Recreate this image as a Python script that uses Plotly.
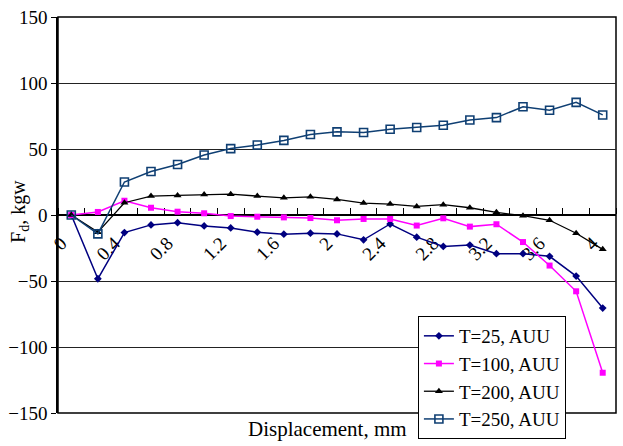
import plotly.graph_objects as go

# Displacement steps (mm)
displacement = [0.0, 0.2, 0.4, 0.6, 0.8, 1.0, 1.2, 1.4, 1.6, 1.8, 2.0,
                2.2, 2.4, 2.6, 2.8, 3.0, 3.2, 3.4, 3.6, 3.8, 4.0]

# Force Fd (kgw) for each temperature
f_t25 = [0, -48.3, -13.3, -7.5, -5.8, -8.3, -9.8, -13.0, -14.5, -13.8, -14.3,
         -18.8, -6.8, -16.8, -23.8, -22.8, -29.3, -29.3, -31.3, -46.3, -70.5]
f_t100 = [0, 2.3, 10.8, 5.5, 2.5, 1.3, -0.8, -1.3, -1.8, -2.3, -4.0,
          -3.0, -3.0, -8.0, -2.5, -8.8, -7.0, -20.5, -38.3, -57.8, -119.5]
f_t200 = [0, -13.0, 9.3, 14.3, 14.8, 15.5, 15.8, 14.3, 13.0, 13.8, 11.8,
          9.0, 8.3, 6.5, 7.8, 5.5, 2.0, -0.5, -4.0, -13.8, -26.0]
f_t250 = [0, -14.3, 25.0, 33.0, 38.3, 45.5, 50.3, 53.0, 56.5, 61.0, 63.0,
          62.5, 65.0, 66.3, 68.0, 72.0, 73.8, 82.0, 79.3, 85.3, 75.8]

series_names = ["T=25, AUU", "T=100, AUU", "T=200, AUU", "T=250, AUU"]
label_vals = [0.0, 0.4, 0.8, 1.2, 1.6, 2.0, 2.4, 2.8, 3.2, 3.6, 4.0]
label_text = ["0", "0.4", "0.8", "1.2", "1.6", "2", "2.4", "2.8", "3.2", "3.6", "4"]
y_ticks = [-150, -100, -50, 0, 50, 100, 150]

SERIF = "Liberation Serif, Times New Roman, Times, serif"

fig = go.Figure()
fig.add_trace(go.Scatter(
    x=displacement, y=f_t25, name=series_names[0], mode="lines+markers",
    line=dict(color="#000080", width=1.5),
    marker=dict(symbol="diamond", size=6, color="#000080")))
fig.add_trace(go.Scatter(
    x=displacement, y=f_t100, name=series_names[1], mode="lines+markers",
    line=dict(color="#FF00FF", width=1.5),
    marker=dict(symbol="square", size=6, color="#FF00FF")))
fig.add_trace(go.Scatter(
    x=displacement, y=f_t200, name=series_names[2], mode="lines+markers",
    line=dict(color="#000000", width=1.3),
    marker=dict(symbol="triangle-up", size=7, color="#000000")))
fig.add_trace(go.Scatter(
    x=displacement, y=f_t250, name=series_names[3], mode="lines+markers",
    line=dict(color="#0F3F73", width=1.5),
    marker=dict(symbol="square-open", size=8, color="#0F3F73",
                line=dict(width=1.6))))

fig.update_layout(
    width=623, height=446,
    margin=dict(l=58, r=7, t=15, b=31),
    plot_bgcolor="white", paper_bgcolor="white",
    font=dict(family=SERIF, size=19, color="black"),
    showlegend=True,
    legend=dict(
        x=0.645, y=0.245, xanchor="left", yanchor="top",
        bgcolor="white", bordercolor="black", borderwidth=1,
        font=dict(family=SERIF, size=19, color="black"),
        tracegroupgap=0, itemwidth=30,
    ),
    xaxis=dict(
        range=[-0.1, 4.1],
        anchor="free", position=0.5, side="bottom",
        showline=True, linecolor="black", linewidth=1.5,
        showgrid=False, zeroline=False, layer="below traces",
        tickmode="array", tickvals=label_vals, ticktext=label_text,
        ticks="", tickangle=-45,
        ticklabelstandoff=9, ticklabelshift=-10,
        tickfont=dict(family=SERIF, size=19, color="black"),
        minor=dict(tick0=-0.1, dtick=0.2, ticks="inside", ticklen=6,
                   tickcolor="black", tickwidth=1, showgrid=False),
    ),
    yaxis=dict(
        range=[-150, 150],
        tickmode="array", tickvals=y_ticks,
        showgrid=True, gridcolor="#222222", gridwidth=1,
        zeroline=False, layer="below traces",
        showline=True, linecolor="black", linewidth=1.5,
        ticks="outside", ticklen=5, tickcolor="black",
        tickfont=dict(family=SERIF, size=19, color="black"),
    ),
)

# plot-area frame
fig.add_shape(type="rect", xref="paper", yref="paper", x0=0, x1=1, y0=0, y1=1,
              line=dict(color="black", width=1.5), fillcolor="rgba(0,0,0,0)",
              layer="below")

fig.add_annotation(text="Displacement, mm", xref="paper", yref="paper",
                   x=0.483, y=-0.04, xanchor="center", yanchor="middle",
                   showarrow=False, font=dict(family=SERIF, size=21))
fig.add_annotation(text="F<sub>d</sub>, kgw", xref="paper", yref="paper",
                   x=-0.07, y=0.51, xanchor="center", yanchor="middle",
                   textangle=-90, showarrow=False,
                   font=dict(family=SERIF, size=20))

fig.write_html("out.html")
